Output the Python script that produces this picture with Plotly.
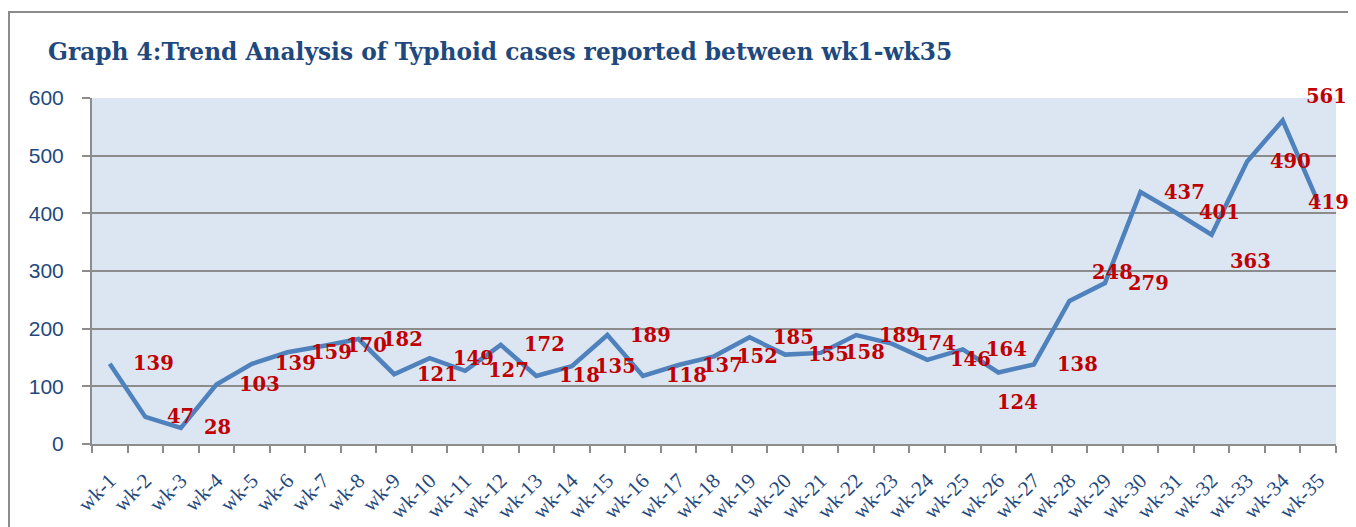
import plotly.graph_objects as go

weeks = [f"wk-{i}" for i in range(1, 36)]
cases = [139, 47, 28, 103, 139, 159, 170, 182, 121, 149, 127, 172, 118, 135, 189,
         118, 137, 152, 185, 155, 158, 189, 174, 146, 164, 124, 138, 248, 279, 437,
         401, 363, 490, 561, 419]
title_text = "Graph 4:Trend Analysis of Typhoid cases reported between wk1-wk35"
y_ticks = [0, 100, 200, 300, 400, 500, 600]

# label placement nudges (pixels) for labels that Excel moved to avoid overlap
label_nudge = {1: (-8, 0), 2: (-7, 0), 25: (-24, -30), 27: (0, 28),
               31: (-5, -27), 33: (0, 24), 34: (2, 0)}

BLUE_TXT = "#1F497D"
fig = go.Figure()
fig.add_trace(go.Scatter(x=weeks, y=cases, mode="lines",
                         line=dict(color="#4F81BD", width=4.5), hoverinfo="skip"))

n = len(weeks)
for i, v in enumerate(cases):
    dx, dy = label_nudge.get(i, (0, 0))
    fig.add_annotation(x=min(i + 1, n - 1), y=v, xref="x", yref="y", text=str(v),
                       showarrow=False, xshift=8 + dx, yshift=dy,
                       font=dict(family="DejaVu Serif", size=19.5, color="#C00000", weight="bold"))

# page has an 8px body margin, so the figure is drawn 8px in from the top-left
OFF = 8
W, H = 1356 - OFF, 527 - OFF
L, R, T, B = 92 - OFF, 20, 98 - OFF, 83
pw, ph = W - L - R, H - T - B
fig.add_shape(type="rect", xref="paper", yref="paper",
              x0=(1 - L) / pw, x1=(W + 5 - L) / pw,
              y0=-(B + 5) / ph, y1=1 + (T - 4) / ph,
              line=dict(color="#8C8C8C", width=2), fillcolor="rgba(0,0,0,0)", layer="below")

fig.update_layout(
    width=W, height=H,
    margin=dict(l=L, r=R, t=T, b=B, autoexpand=False),
    paper_bgcolor="white", plot_bgcolor="#DCE6F2",
    showlegend=False,
    title=dict(text=title_text, x=(48 - OFF) / W, xanchor="left", y=1 - (52 - OFF) / H,
               yanchor="middle",
               font=dict(family="DejaVu Serif", size=23.3, color=BLUE_TXT, weight="bold")),
    xaxis=dict(type="category", tickangle=-45, tickson="boundaries", ticks="outside",
               ticklen=7, tickwidth=2, tickcolor="#8C8C8C", showline=True,
               linecolor="#8C8C8C", linewidth=2, showgrid=False, automargin=False,
               range=[-0.5, n - 0.5], ticklabelstandoff=14,
               tickfont=dict(family="Liberation Serif", size=21, color=BLUE_TXT)),
    yaxis=dict(range=[0, 600], tickvals=y_ticks, ticks="outside", ticklen=8, tickwidth=2,
               tickcolor="#8C8C8C", showline=True, linecolor="#8C8C8C", linewidth=2,
               showgrid=True, gridcolor="#8C8C8C", gridwidth=1.5, zeroline=False,
               ticklabelstandoff=14, automargin=False,
               tickfont=dict(family="Liberation Sans", size=21, color=BLUE_TXT)),
)

fig.write_html("out.html")
